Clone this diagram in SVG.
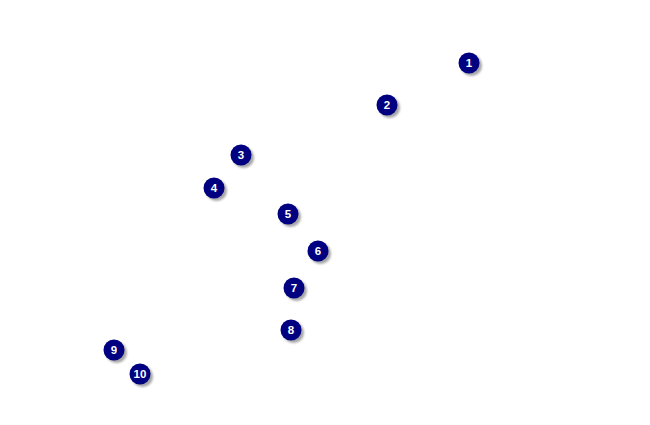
<svg xmlns="http://www.w3.org/2000/svg" width="650" height="425" viewBox="0 0 650 425">
<style>
.sh{fill:#888;opacity:0.75}
.c{fill:#000080}
.t{fill:#fff;font-family:"Liberation Sans",Arial,sans-serif;font-weight:bold;font-size:11.5px;text-anchor:middle}
</style>
<defs>
<filter id="b" x="-50%" y="-50%" width="200%" height="200%"><feGaussianBlur stdDeviation="1"/></filter>
<g id="m"><circle class="sh" cx="2.5" cy="2.5" r="10.5" filter="url(#b)"/><circle class="c" r="10.5"/></g>
</defs>
<rect width="650" height="425" fill="#fff"/>
<g id="connectors"></g>
<g id="n1" transform="translate(469,63)"><use href="#m"/><text class="t" y="3.5">1</text></g>
<g id="n2" transform="translate(387,105)"><use href="#m"/><text class="t" y="3.5">2</text></g>
<g id="n3" transform="translate(241,155)"><use href="#m"/><text class="t" y="3.5">3</text></g>
<g id="n4" transform="translate(214,188)"><use href="#m"/><text class="t" y="3.5">4</text></g>
<g id="n5" transform="translate(288,214)"><use href="#m"/><text class="t" y="3.5">5</text></g>
<g id="n6" transform="translate(318,251)"><use href="#m"/><text class="t" y="3.5">6</text></g>
<g id="n7" transform="translate(294,288)"><use href="#m"/><text class="t" y="3.5">7</text></g>
<g id="n8" transform="translate(291,330)"><use href="#m"/><text class="t" y="3.5">8</text></g>
<g id="n9" transform="translate(114,350)"><use href="#m"/><text class="t" y="3.5">9</text></g>
<g id="n10" transform="translate(140,374)"><use href="#m"/><text class="t" y="3.5">10</text></g>
</svg>
